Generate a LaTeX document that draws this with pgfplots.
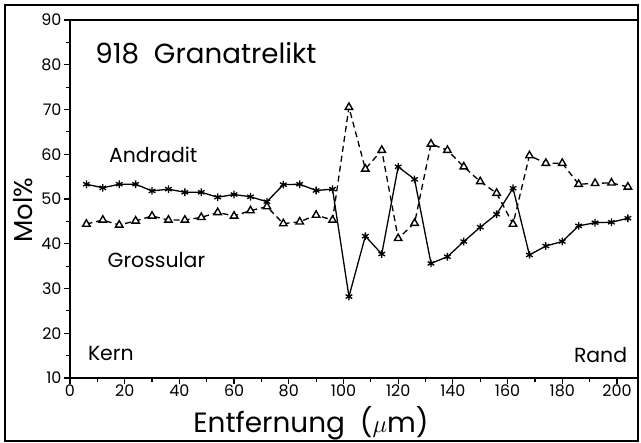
\documentclass[border=0pt]{standalone}
\usepackage{pgfplots}
\pgfplotsset{compat=1.18}
\usepackage{fontspec}
\setmainfont{Poppins}
\begin{document}
\begin{tikzpicture}
\begin{axis}[name=ax, scale only axis, width=568bp, height=358bp,
 xmin=0, xmax=207.7, ymin=10, ymax=90,
 xtick={0,20,...,200}, minor xtick={10,30,...,190},
 ytick={10,20,...,90}, minor ytick={15,25,...,85},
 tick align=outside, tick pos=left, major tick length=6bp, minor tick length=4bp,
 axis line style={line width=1.3bp},
 every tick/.style={line width=1.2bp, black},
 ticklabel style={font=\fontsize{16}{18}\selectfont},
 xticklabel style={yshift=3bp},
 yticklabel style={xshift=1bp},
 /pgf/number format/assume math mode=true,
 clip=false,
]
\addplot[black, line width=1.3bp, mark=asterisk, mark size=3.8bp] coordinates {
(6,53.3)(12,52.5)(18,53.3)(24,53.3)(30,51.8)(36,52.2)(42,51.5)(48,51.5)(54,50.4)(60,51.0)
(66,50.5)(72,49.4)(78,53.2)(84,53.3)(90,51.9)(96,52.2)(102,28.2)(108,41.7)(114,37.7)(120,57.2)
(126,54.4)(132,35.6)(138,37.1)(144,40.5)(150,43.7)(156,46.6)(162,52.4)(168,37.5)(174,39.5)(180,40.5)
(186,44.0)(192,44.7)(198,44.8)(204,45.7)};
\addplot[black, line width=1.3bp, dash pattern=on 6bp off 4bp, mark=triangle*, mark size=4.3bp,
 mark options={solid, fill=white, line width=1.4bp}] coordinates {
(6,44.4)(12,45.3)(18,44.2)(24,45.1)(30,46.2)(36,45.3)(42,45.3)(48,45.9)(54,47.0)(60,46.2)
(66,47.4)(72,48.3)(78,44.5)(84,44.9)(90,46.4)(96,45.3)(102,70.5)(108,56.7)(114,60.9)(120,41.2)
(126,44.6)(132,62.3)(138,60.9)(144,57.2)(150,53.9)(156,51.3)(162,44.4)(168,59.7)(174,58.0)(180,58.0)
(186,53.3)(192,53.5)(198,53.6)(204,52.7)};
\node[anchor=base west, font=\fontsize{27.8}{32}\selectfont] at (axis cs:8,80.2) {918\ \ Granatrelikt};
\node[anchor=base west, font=\fontsize{20.5}{24}\selectfont] at (axis cs:13,58.1) {Andradit};
\node[anchor=base west, font=\fontsize{20.5}{24}\selectfont] at (axis cs:12.5,34.6) {Grossular};
\node[anchor=base west, font=\fontsize{20.5}{24}\selectfont] at (axis cs:5.3,13.8) {Kern};
\node[anchor=base east, font=\fontsize{20.5}{24}\selectfont] at (axis cs:205,13.4) {Rand};
\end{axis}
\node[anchor=base, font=\fontsize{28}{32}\selectfont] at ([xshift=241bp,yshift=-54bp]ax.south west) {Entfernung\ \ ($\mu$m)};
\node[anchor=base, rotate=90, font=\fontsize{26}{30}\selectfont] at ([xshift=-38bp,yshift=168bp]ax.south west) {Mol\%};
\draw[line width=1.3bp] ([xshift=-65bp,yshift=-63bp]ax.south west) rectangle ([xshift=0bp,yshift=15bp]ax.north east);
\path ([xshift=-70bp,yshift=-65bp]ax.south west) rectangle ([xshift=3bp,yshift=20bp]ax.north east);
\end{tikzpicture}
\end{document}
